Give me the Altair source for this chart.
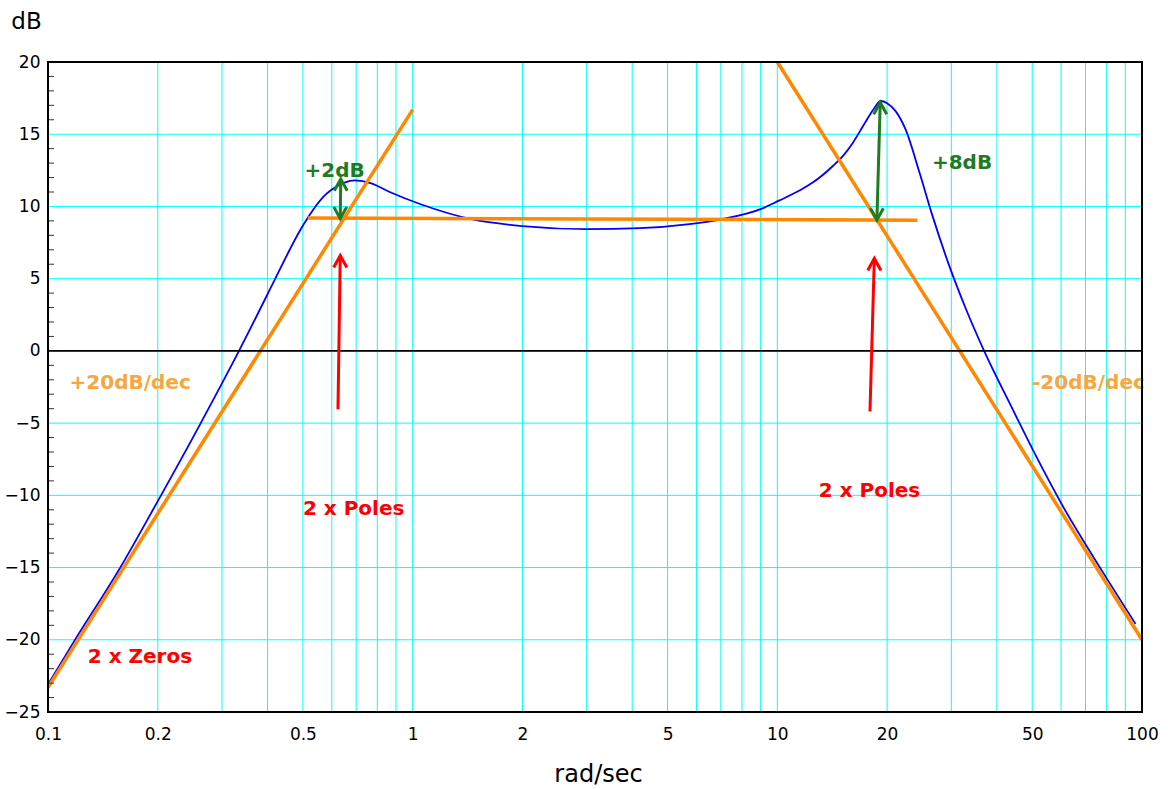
import json
import altair as alt
import pandas as pd

# ---- data ----
blue_w = [0.1, 0.1173, 0.157, 0.2, 0.261, 0.334, 0.42, 0.46, 0.49, 0.52, 0.545, 0.568, 0.595,
          0.62, 0.65, 0.693, 0.77, 0.865, 1.066, 1.46, 2.0, 3.0, 4.2, 5.74, 7.08, 9.11, 10.1,
          11.5, 12.5, 14.2, 15.2, 16.1, 17.5, 18.5, 19.2, 20.0, 21.1, 22.5, 24.5, 26.6, 29.6,
          32.9, 36.9, 44.1, 52.0, 60.5, 78.0, 96.0]
blue_db = [-23.1, -20.2, -15.1, -10.4, -5.1, 0.0, 5.0, 7.0, 8.3, 9.35, 10.1, 10.65, 11.1,
           11.4, 11.65, 11.8, 11.6, 11.0, 10.1, 9.1, 8.64, 8.43, 8.5, 8.78, 9.13, 9.87, 10.4,
           11.1, 11.65, 12.8, 13.55, 14.4, 15.9, 16.85, 17.3, 17.15, 16.6, 15.3, 12.4, 9.4, 5.9,
           2.9, 0.0, -4.0, -7.6, -10.7, -15.3, -18.9]

orange_seg = ["rise", "rise", "flat", "flat", "fall", "fall"]
orange_w = [0.1, 1.0, 0.516, 24.2, 10.0, 100.0]
orange_db = [-23.3, 16.7, 9.2, 9.05, 20.0, -20.0]

grid_x = [0.1, 0.2, 0.3, 0.4, 0.5, 0.6, 0.7, 0.8, 0.9,
          1, 2, 3, 4, 5, 6, 7, 8, 9,
          10, 20, 30, 40, 50, 60, 70, 80, 90, 100]
label_x = [0.1, 0.2, 0.5, 1, 2, 5, 10, 20, 50, 100]
y_ticks = [-25, -20, -15, -10, -5, 0, 5, 10, 15, 20]
minor_y = [-24, -23, -22, -21, -19, -18, -17, -16, -14, -13, -12, -11, -9, -8, -7, -6,
           -4, -3, -2, -1, 1, 2, 3, 4, 6, 7, 8, 9, 11, 12, 13, 14, 16, 17, 18, 19]

# green double arrows (top tip, bottom tip)
green_w_top = [0.635, 19.15]
green_db_top = [11.9, 17.2]
green_w_bot = [0.633, 18.75]
green_db_bot = [9.15, 9.06]

# red arrows (tail -> tip)
red_w_tip = [0.633, 18.45]
red_db_tip = [6.6, 6.4]
red_w_tail = [0.624, 17.95]
red_db_tail = [-4.05, -4.2]

ann_text = ["+2dB", "+8dB", "2 x Poles", "2 x Poles", "2 x Zeros", "+20dB/dec", "-20dB/dec"]
ann_w = [0.611, 32.1, 0.689, 17.9, 0.1787, 0.168, 71.3]
ann_db = [12.45, 13.0, -10.96, -9.71, -21.2, -2.23, -2.23]
ann_color = ["#1e7b22", "#1e7b22", "#ff0000", "#ff0000", "#ff0000", "#f4a742", "#f4a742"]

FONT = "DejaVu Sans"
W, H = 1094, 650

blue_df = pd.DataFrame({"w": blue_w, "db": blue_db})
orange_df = pd.DataFrame({"w": orange_w, "db": orange_db, "seg": orange_seg})
minor_df = pd.DataFrame({"db": minor_y})
zero_df = pd.DataFrame({"db": [0]})
gridx_df = pd.DataFrame({"w": grid_x})
gridy_df = pd.DataFrame({"db": y_ticks})
green_df = pd.DataFrame({"w": green_w_top, "db": green_db_top, "w2": green_w_bot, "db2": green_db_bot})
green_top_df = pd.DataFrame({"w": green_w_top, "db": green_db_top})
green_bot_df = pd.DataFrame({"w": green_w_bot, "db": green_db_bot})
red_df = pd.DataFrame({"w": red_w_tail, "db": red_db_tail, "w2": red_w_tip, "db2": red_db_tip})
red_tip_df = pd.DataFrame({"w": red_w_tip, "db": red_db_tip})
ann_df = pd.DataFrame({"w": ann_w, "db": ann_db, "t": ann_text, "c": ann_color})

xscale = alt.Scale(type="log", domain=[0.1, 100], nice=False)
yscale = alt.Scale(domain=[-25, 20], nice=False, zero=False)

label_expr = "indexof(" + json.dumps(label_x) + ", datum.value) >= 0 ? datum.label : ''"

xaxis = alt.Axis(values=grid_x, grid=False, ticks=False, domain=False, format="~g",
                 labelExpr=label_expr,
                 labelFont=FONT, labelFontSize=17, labelColor="black", labelPadding=14,
                 labelFlush=False, labelOverlap=False, labelBound=False,
                 titleFont=FONT, titleFontSize=24, titleFontWeight="normal", titleColor="black",
                 titleX=550, titleY=62, titleAlign="center", titleBaseline="middle")
yaxis = alt.Axis(values=y_ticks, grid=False, ticks=False, domain=False,
                 labelFont=FONT, labelFontSize=17, labelColor="black", labelPadding=8,
                 labelOverlap=False, labelBound=False, labelFlush=False,
                 titleFont=FONT, titleFontSize=23, titleFontWeight="normal", titleColor="black",
                 titleAngle=0, titleX=-22, titleY=-41, titleAlign="center", titleBaseline="middle")

xenc = alt.X("w:Q", scale=xscale, axis=xaxis, title="rad/sec")
yenc = alt.Y("db:Q", scale=yscale, axis=yaxis, title="dB")

gridx = alt.Chart(gridx_df).mark_rule(color="#00ffff", strokeWidth=1).encode(x=xenc)
gridy = alt.Chart(gridy_df).mark_rule(color="#00ffff", strokeWidth=1).encode(y=yenc)

blue = alt.Chart(blue_df).mark_line(color="#0000ff", strokeWidth=1.8, interpolate="monotone").encode(
    x=xenc, y=yenc)
orange = alt.Chart(orange_df).mark_line(color="#ff8800", strokeWidth=3.5).encode(
    x=xenc, y=yenc, detail="seg:N")
zero = alt.Chart(zero_df).mark_rule(color="black", strokeWidth=1.6).encode(y=yenc)
minor = alt.Chart(minor_df).mark_rule(color="#333333", strokeWidth=1).encode(
    y=yenc, x=alt.value(0), x2=alt.value(6))

green_shaft = alt.Chart(green_df).mark_rule(color="#1e7b22", strokeWidth=3).encode(
    x=xenc, y=yenc, x2="w2:Q", y2="db2:Q")
green_up = alt.Chart(green_top_df).mark_point(
    shape="M -0.55 1 L 0 0 L 0.55 1", filled=False, size=560, strokeWidth=3,
    color="#1e7b22", opacity=1).encode(x=xenc, y=yenc)
green_down = alt.Chart(green_bot_df).mark_point(
    shape="M -0.55 -1 L 0 0 L 0.55 -1", filled=False, size=560, strokeWidth=3,
    color="#1e7b22", opacity=1).encode(x=xenc, y=yenc)

red_shaft = alt.Chart(red_df).mark_rule(color="#ff0000", strokeWidth=3).encode(
    x=xenc, y=yenc, x2="w2:Q", y2="db2:Q")
red_up = alt.Chart(red_tip_df).mark_point(
    shape="M -0.55 1 L 0 0 L 0.55 1", filled=False, size=576, strokeWidth=3,
    color="#ff0000", opacity=1).encode(x=xenc, y=yenc)

ann = alt.Chart(ann_df).mark_text(font=FONT, fontWeight="bold", fontSize=20,
                                  align="center", baseline="middle").encode(
    x=xenc, y=yenc, text="t:N", color=alt.Color("c:N", scale=None))

frame = alt.Chart(zero_df).mark_rect(fill=None, stroke="black", strokeWidth=2).encode(
    x=alt.value(0), x2=alt.value(W), y=alt.value(0), y2=alt.value(H))

chart = alt.layer(gridx, gridy, blue, orange, zero, minor, green_shaft, green_up, green_down,
                  red_shaft, red_up, ann, frame).properties(
    width=W, height=H,
    autosize=alt.AutoSizeParams(type="none"),
    padding={"left": 48, "top": 62, "right": 26, "bottom": 77},
    background="white",
).configure_view(stroke=None).configure_axis(grid=False)

chart.save("out.html", embed_options={"renderer": "svg", "actions": False})
